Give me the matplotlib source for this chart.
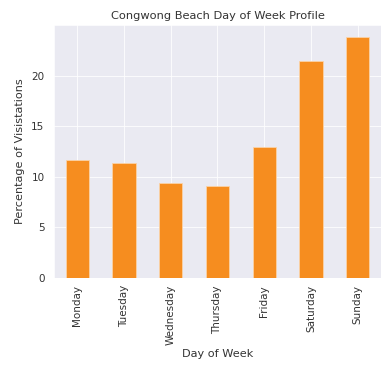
import matplotlib
matplotlib.use("Agg")
import matplotlib.pyplot as plt
import seaborn as sns

days = ["Monday", "Tuesday", "Wednesday", "Thursday", "Friday", "Saturday", "Sunday"]
pct = [11.7, 11.4, 9.4, 9.1, 12.9, 21.4, 23.8]

sns.set_style("darkgrid")
plt.rcParams['font.family'] = ['DejaVu Sans']

W, H, DPI = 386, 366, 72
fig = plt.figure(figsize=(W / DPI, H / DPI), dpi=DPI)
ax = fig.add_axes([54 / W, (H - 278) / H, (381 - 54) / W, (278 - 25) / H])

text_color = "#333333"
x = range(len(days))
ax.bar(x, pct, width=0.5, color="#f68d1f", edgecolor="#fbd3a8", linewidth=0.8)
ax.set_xlim(-0.5, len(days) - 0.5)
ax.set_ylim(0, max(pct) * 1.05)
ax.set_xticks(list(x))
ax.set_xticklabels(days, rotation=90, fontsize=10.4, color=text_color)
ax.tick_params(axis="y", labelsize=10.4, labelcolor=text_color, pad=6)
ax.set_yticks([0, 5, 10, 15, 20])
ax.set_xlabel("Day of Week", fontsize=11.2, color=text_color)
ax.set_ylabel("Percentage of Visistations", fontsize=11.2, color=text_color,
              labelpad=6)
ax.set_title("Congwong Beach Day of Week Profile", fontsize=11.4, color=text_color)

fig.savefig("out.png", dpi=DPI)
